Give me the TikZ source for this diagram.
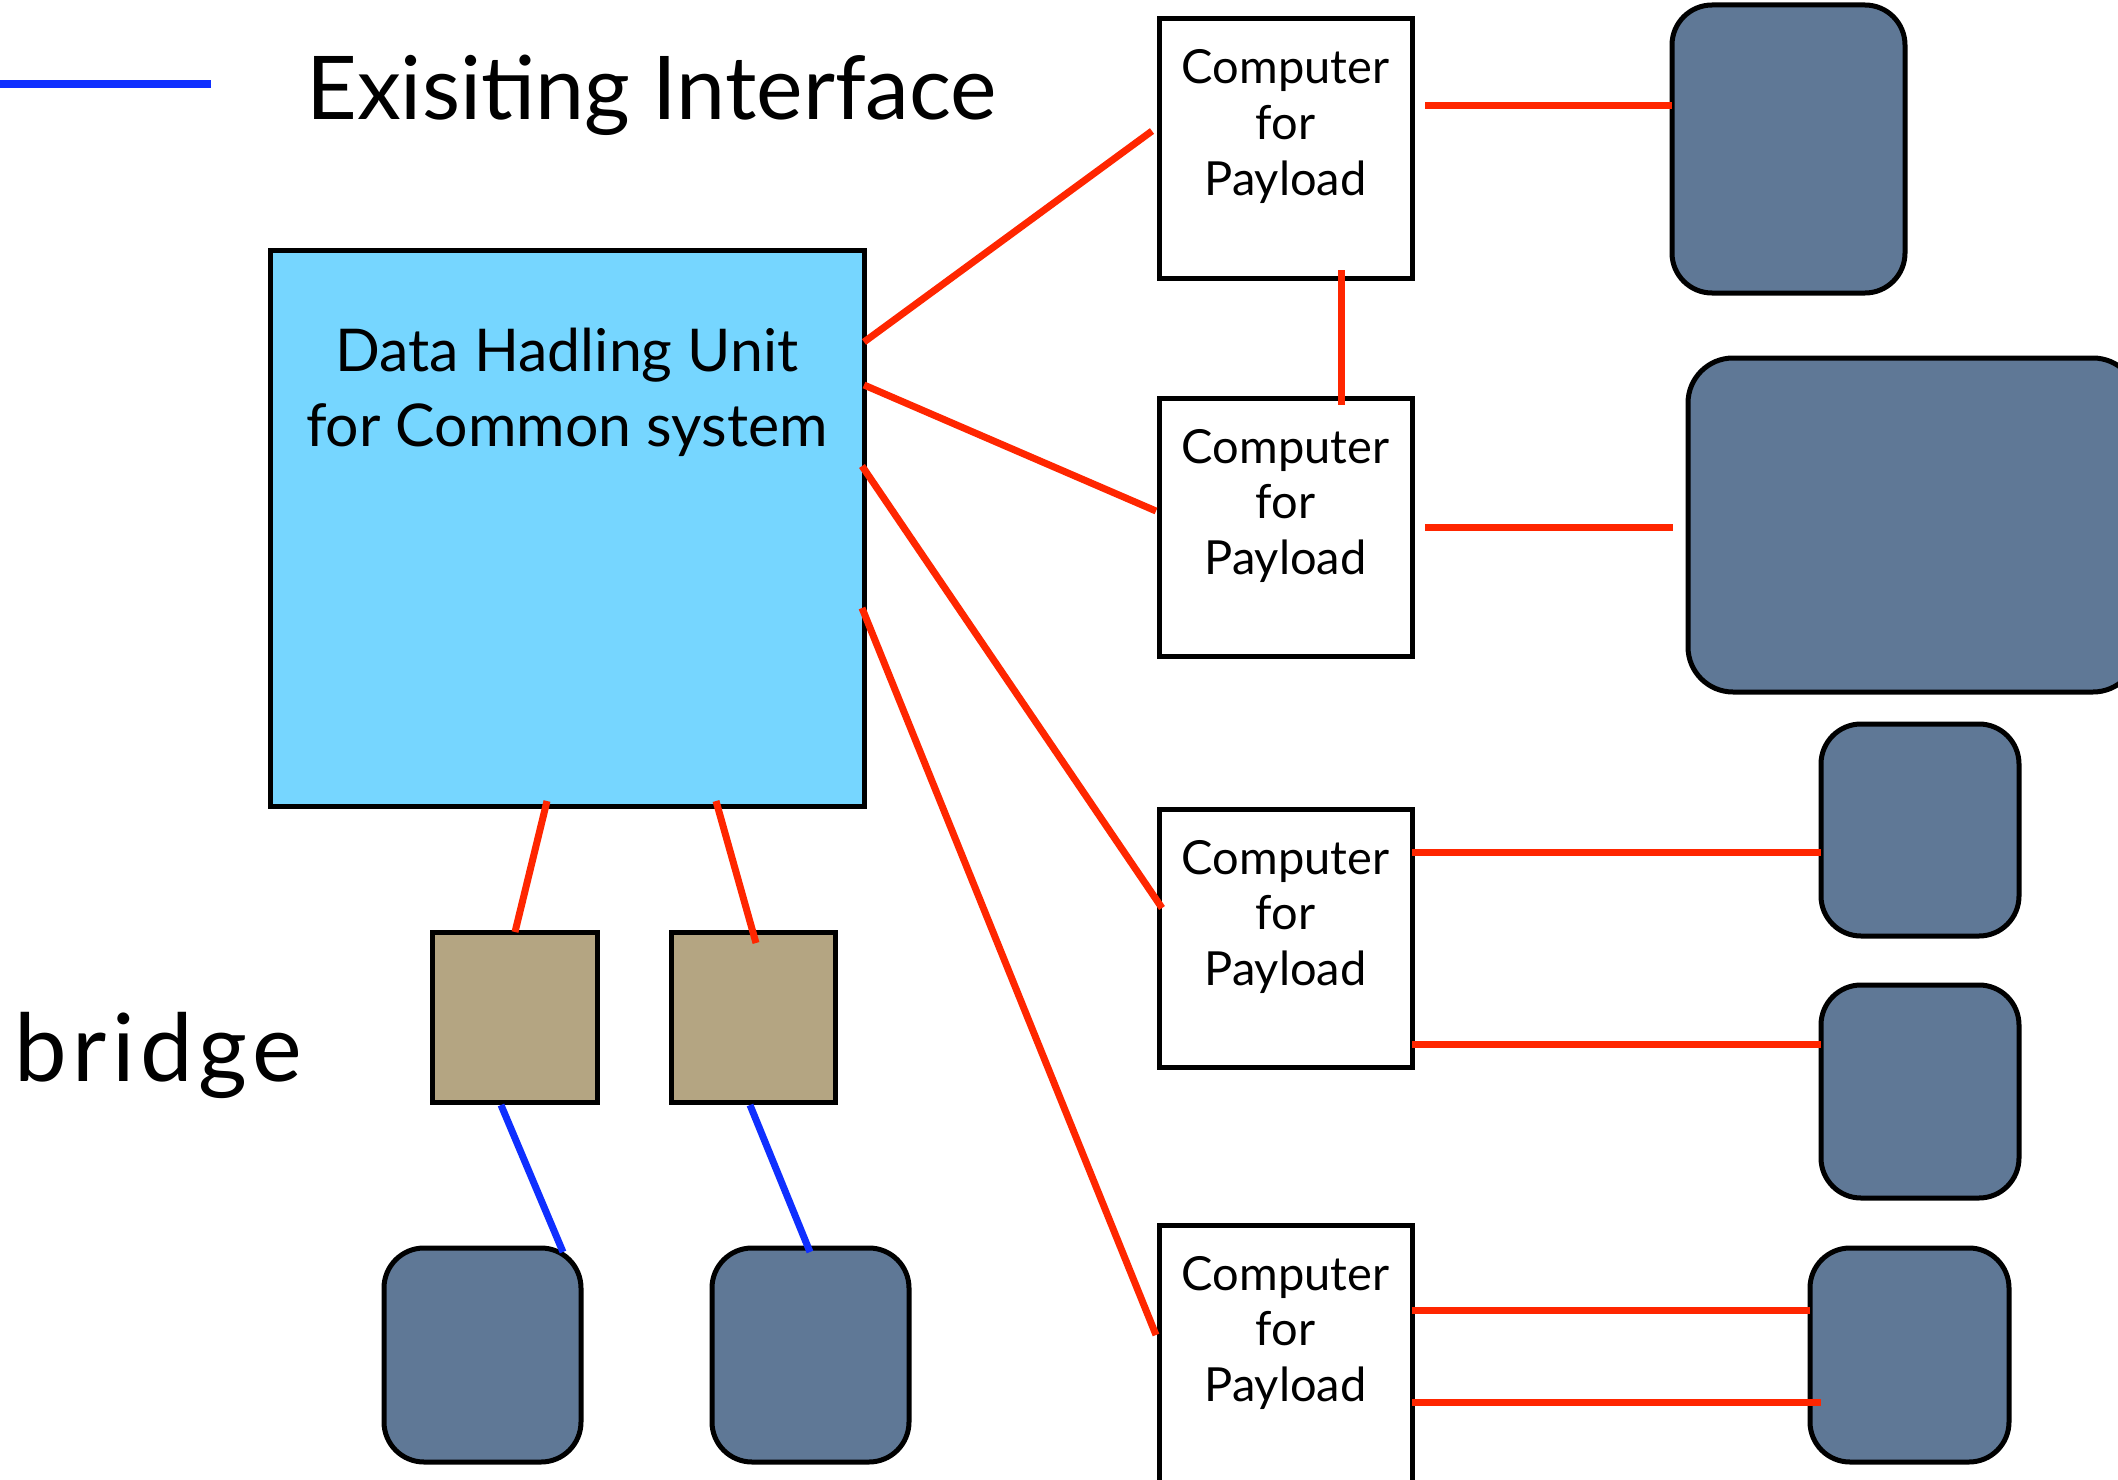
\documentclass[tikz,border=0pt]{standalone}
\usepackage{fontspec}
\setmainfont{Lato}
\usetikzlibrary{calc}
\definecolor{dhublue}{HTML}{76D6FF}
\definecolor{slate}{HTML}{5F7896}
\definecolor{tanbox}{HTML}{B4A582}
\definecolor{redline}{HTML}{FF2600}
\definecolor{blueline}{HTML}{0F2FFF}
\begin{document}
\begin{tikzpicture}[x=1pt,y=-1pt,
  box/.style={draw=black,line width=5pt,anchor=north west,inner sep=0pt,outer sep=0pt},
  dhubox/.style={box,fill=dhublue},
  cpbox/.style={box,fill=white},
  devbox/.style={box,fill=slate,rounded corners=40pt},
  bridgebox/.style={box,fill=tanbox},
  redwire/.style={draw=redline,line width=7pt},
  bluewire/.style={draw=blueline,line width=7pt},
  cptext/.style={anchor=base,inner sep=0pt,font=\fontsize{47}{56}\selectfont},
  dhutext/.style={anchor=base,inner sep=0pt,font=\fontsize{59}{70}\selectfont},
  bigtext/.style={anchor=base west,inner sep=0pt,font=\fontsize{88}{100}\selectfont}]
\useasboundingbox (0,0) rectangle (2118,1480);
\clip (0,0) rectangle (2118,1480);
\fill[white] (0,0) rectangle (2118,1480);

% legend
\coordinate (lega) at (0,84);
\coordinate (legb) at (211,84);
\draw[bluewire] (lega) -- (legb);
\node[bigtext] (legtext) at (306,119) {Exisiting Interface};
\node[bigtext,font=\fontsize{94}{100}\selectfont\addfontfeature{LetterSpace=6}] (bridgetext) at (14,1081) {bridge};

% main unit
\node[dhubox,minimum width=594pt,minimum height=556pt] (dhu) at (270,250) {};
\node[dhutext] (dhut1) at ($(dhu.north)+(0,121)$) {Data Hadling Unit};
\node[dhutext] (dhut2) at ($(dhu.north)+(0,196)$) {for Common system};

% computers
\node[cpbox,minimum width=253pt,minimum height=259pt] (c1) at (1159,19) {};
\node[cpbox,minimum width=253pt,minimum height=258pt] (c2) at (1159,398) {};
\node[cpbox,minimum width=253pt,minimum height=258pt] (c3) at (1159,809) {};
\node[cpbox,minimum width=253pt,minimum height=290pt] (c4) at (1159,1225) {};
\foreach \c in {c1,c2,c3,c4}{
  \node[cptext] (\c t1) at ($(\c.north)+(0,65)$) {Computer};
  \node[cptext] (\c t2) at ($(\c.north)+(0,120)$) {for};
  \node[cptext] (\c t3) at ($(\c.north)+(0,176)$) {Payload};
}

% devices
\node[devbox,minimum width=233pt,minimum height=288pt] (r1) at (1672,5) {};
\node[devbox,minimum width=450pt,minimum height=334pt,rounded corners=45pt] (r2) at (1688,358) {};
\node[devbox,minimum width=198pt,minimum height=212pt] (r3) at (1821,724) {};
\node[devbox,minimum width=198pt,minimum height=213pt] (r4) at (1821,985) {};
\node[devbox,minimum width=199pt,minimum height=214pt] (r5) at (1810,1248) {};
\node[devbox,minimum width=197pt,minimum height=214pt] (b1) at (384,1248) {};
\node[devbox,minimum width=197pt,minimum height=214pt] (b2) at (712,1248) {};

% bridges
\node[bridgebox,minimum width=165pt,minimum height=170pt] (t1) at (432,932) {};
\node[bridgebox,minimum width=164pt,minimum height=170pt] (t2) at (671,932) {};

% red connectors
\draw[redwire] ($(dhu.north east)+(0,92)$) -- ($(c1.north west)+(-7,112)$);
\draw[redwire] ($(dhu.north east)+(0,135)$) -- ($(c2.north west)+(-3,113)$);
\draw[redwire] ($(dhu.north east)+(-2,216)$) -- ($(c3.north west)+(3,99)$);
\draw[redwire] ($(dhu.north east)+(-2,358)$) -- ($(c4.north west)+(-3,110)$);
\draw[redwire] ($(dhu.south west)+(277,-5)$) -- ($(t1.north west)+(83,0)$);
\draw[redwire] ($(dhu.south west)+(446,-5)$) -- ($(t2.north west)+(85,11)$);
\draw[redwire] ($(c1.south west)+(182,-8)$) -- ($(c2.north west)+(182,7)$);
\draw[redwire] ($(c1.north east)+(13,86)$) -- ($(r1.north west)+(0,100)$);
\draw[redwire] ($(c2.north east)+(13,129)$) -- ($(r2.north west)+(-15,169)$);
\draw[redwire] ($(c3.north east)+(0,43)$) -- ($(r3.north west)+(0,128)$);
\draw[redwire] ($(c3.north east)+(0,235)$) -- ($(r4.north west)+(0,59)$);
\draw[redwire] ($(c4.north east)+(0,85)$) -- ($(r5.north west)+(0,62)$);
\draw[redwire] ($(c4.north east)+(0,177)$) -- ($(r5.north west)+(11,154)$);

% blue connectors
\draw[bluewire] ($(t1.south west)+(69,3)$) -- ($(b1.north west)+(179,4)$);
\draw[bluewire] ($(t2.south west)+(79,3)$) -- ($(b2.north west)+(98,4)$);
\end{tikzpicture}
\end{document}
